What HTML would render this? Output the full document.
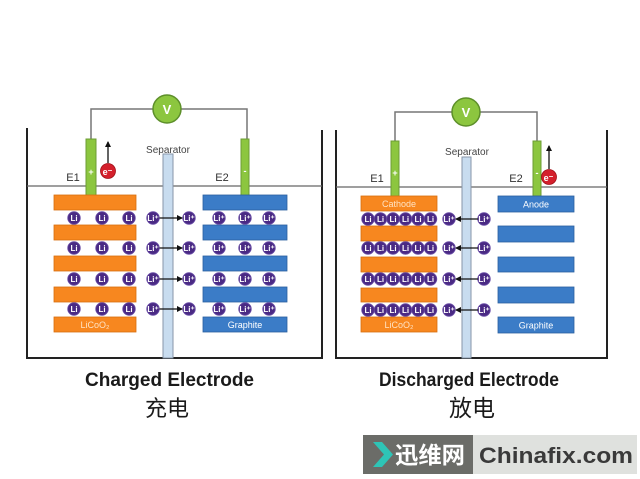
<!DOCTYPE html>
<html><head><meta charset="utf-8"><style>
html,body{margin:0;padding:0;background:#fff;}
svg{display:block;}
text{font-family:"Liberation Sans",Arial,sans-serif;}
.cjk{font-family:"Liberation Sans","Noto Sans CJK SC","WenQuanYi Zen Hei",sans-serif;}
.li{fill:#fff;font-size:8px;font-weight:bold;text-anchor:middle;}
</style></head><body>
<svg width="640" height="479" viewBox="0 0 640 479" xmlns="http://www.w3.org/2000/svg">
<defs>
<marker id="ah" markerWidth="6" markerHeight="6" refX="5" refY="3" orient="auto" markerUnits="userSpaceOnUse">
<path d="M0,0 L6,3 L0,6 z" fill="#111"/>
</marker>
<g id="li"><circle r="6.3" fill="#4a2a84" stroke="#6b4ea8" stroke-width="0.8"/><text y="3" class="li">Li</text></g>
<g id="lip"><circle r="6.3" fill="#4a2a84" stroke="#6b4ea8" stroke-width="0.8"/><text y="3" class="li">Li⁺</text></g>
</defs>
<rect width="640" height="479" fill="#fff"/>

<!-- LEFT PANEL -->
<path d="M27,128 V358 H322 V130" fill="none" stroke="#222" stroke-width="2"/>
<line x1="27" y1="186" x2="322" y2="186" stroke="#666" stroke-width="1.2"/>
<path d="M91,139 V109 H247 V139" fill="none" stroke="#777" stroke-width="1.5"/>
<circle cx="167" cy="109" r="14" fill="#8cc63f" stroke="#5d8f2a" stroke-width="1.5"/>
<text x="167" y="114" fill="#fff" font-size="13" font-weight="bold" text-anchor="middle">V</text>
<rect x="86" y="139" width="10" height="57" fill="#8cc63f" stroke="#6c9c34" stroke-width="1"/>
<text x="91" y="175" fill="#fff" font-size="9" font-weight="bold" text-anchor="middle">+</text>
<rect x="241" y="139" width="8" height="57" fill="#8cc63f" stroke="#6c9c34" stroke-width="1"/>
<text x="245" y="174" fill="#fff" font-size="9" font-weight="bold" text-anchor="middle">-</text>
<line x1="108" y1="163" x2="108" y2="142" stroke="#111" stroke-width="1.3" marker-end="url(#ah)"/>
<circle cx="108" cy="171" r="7.5" fill="#d4202c" stroke="#a01018" stroke-width="0.8"/>
<text x="107.5" y="175" fill="#fff" font-size="9" font-weight="bold" text-anchor="middle">e⁻</text>
<text x="73" y="181" fill="#333" font-size="11" text-anchor="middle">E1</text>
<text x="222" y="181" fill="#333" font-size="11" text-anchor="middle">E2</text>
<text x="168" y="153" fill="#444" font-size="10" text-anchor="middle">Separator</text>
<rect x="163" y="154" width="10" height="204" fill="#c8dcef" stroke="#8796a8" stroke-width="1"/>

<g fill="#f7871f" stroke="#d86f10" stroke-width="0.8">
<rect x="54" y="195" width="82" height="15"/>
<rect x="54" y="225" width="82" height="15"/>
<rect x="54" y="256" width="82" height="15"/>
<rect x="54" y="287" width="82" height="15"/>
<rect x="54" y="317" width="82" height="15"/>
</g>
<text x="95" y="328" fill="#ffe3c4" font-size="9" text-anchor="middle">LiCoO₂</text>
<g fill="#3b7cc7" stroke="#2a5f9f" stroke-width="0.8">
<rect x="203" y="195" width="84" height="15"/>
<rect x="203" y="225" width="84" height="15"/>
<rect x="203" y="256" width="84" height="15"/>
<rect x="203" y="287" width="84" height="15"/>
<rect x="203" y="317" width="84" height="15"/>
</g>
<text x="245" y="328" fill="#fff" font-size="9" text-anchor="middle">Graphite</text>

<g>
<use href="#li" x="74" y="218"/><use href="#li" x="102" y="218"/><use href="#li" x="129" y="218"/>
<use href="#lip" x="153" y="218"/><use href="#lip" x="189" y="218"/>
<use href="#lip" x="219" y="218"/><use href="#lip" x="245" y="218"/><use href="#lip" x="269" y="218"/>
<line x1="159.5" y1="218" x2="182" y2="218" stroke="#111" stroke-width="1.3" marker-end="url(#ah)"/>

<use href="#li" x="74" y="248"/><use href="#li" x="102" y="248"/><use href="#li" x="129" y="248"/>
<use href="#lip" x="153" y="248"/><use href="#lip" x="189" y="248"/>
<use href="#lip" x="219" y="248"/><use href="#lip" x="245" y="248"/><use href="#lip" x="269" y="248"/>
<line x1="159.5" y1="248" x2="182" y2="248" stroke="#111" stroke-width="1.3" marker-end="url(#ah)"/>

<use href="#li" x="74" y="279"/><use href="#li" x="102" y="279"/><use href="#li" x="129" y="279"/>
<use href="#lip" x="153" y="279"/><use href="#lip" x="189" y="279"/>
<use href="#lip" x="219" y="279"/><use href="#lip" x="245" y="279"/><use href="#lip" x="269" y="279"/>
<line x1="159.5" y1="279" x2="182" y2="279" stroke="#111" stroke-width="1.3" marker-end="url(#ah)"/>

<use href="#li" x="74" y="309"/><use href="#li" x="102" y="309"/><use href="#li" x="129" y="309"/>
<use href="#lip" x="153" y="309"/><use href="#lip" x="189" y="309"/>
<use href="#lip" x="219" y="309"/><use href="#lip" x="245" y="309"/><use href="#lip" x="269" y="309"/>
<line x1="159.5" y1="309" x2="182" y2="309" stroke="#111" stroke-width="1.3" marker-end="url(#ah)"/>
</g>

<text x="85" y="386" fill="#1a1a1a" font-size="19" font-weight="bold" textLength="169" lengthAdjust="spacingAndGlyphs">Charged Electrode</text>
<text x="167" y="416" fill="#1a1a1a" font-size="22" text-anchor="middle" class="cjk">充电</text>

<!-- RIGHT PANEL -->
<path d="M336,130 V358 H607 V130" fill="none" stroke="#222" stroke-width="2"/>
<line x1="336" y1="187" x2="607" y2="187" stroke="#666" stroke-width="1.2"/>
<path d="M395,141 V112 H537 V141" fill="none" stroke="#777" stroke-width="1.5"/>
<circle cx="466" cy="112" r="14" fill="#8cc63f" stroke="#5d8f2a" stroke-width="1.5"/>
<text x="466" y="117" fill="#fff" font-size="13" font-weight="bold" text-anchor="middle">V</text>
<rect x="391" y="141" width="8" height="55" fill="#8cc63f" stroke="#6c9c34" stroke-width="1"/>
<text x="395" y="176" fill="#fff" font-size="9" font-weight="bold" text-anchor="middle">+</text>
<rect x="533" y="141" width="8" height="55" fill="#8cc63f" stroke="#6c9c34" stroke-width="1"/>
<text x="537" y="176" fill="#fff" font-size="9" font-weight="bold" text-anchor="middle">-</text>
<line x1="549" y1="169" x2="549" y2="146" stroke="#111" stroke-width="1.3" marker-end="url(#ah)"/>
<circle cx="549" cy="177" r="7.5" fill="#d4202c" stroke="#a01018" stroke-width="0.8"/>
<text x="548.5" y="181" fill="#fff" font-size="9" font-weight="bold" text-anchor="middle">e⁻</text>
<text x="377" y="182" fill="#333" font-size="11" text-anchor="middle">E1</text>
<text x="516" y="182" fill="#333" font-size="11" text-anchor="middle">E2</text>
<text x="467" y="155" fill="#444" font-size="10" text-anchor="middle">Separator</text>
<rect x="462" y="157" width="9" height="201" fill="#c8dcef" stroke="#8796a8" stroke-width="1"/>

<g fill="#f7871f" stroke="#d86f10" stroke-width="0.8">
<rect x="361" y="196" width="76" height="15"/>
<rect x="361" y="226" width="76" height="15"/>
<rect x="361" y="257" width="76" height="15"/>
<rect x="361" y="288" width="76" height="14"/>
<rect x="361" y="317" width="76" height="15"/>
</g>
<text x="399" y="207" fill="#ffe3c4" font-size="9" text-anchor="middle">Cathode</text>
<text x="399" y="328" fill="#ffe3c4" font-size="9" text-anchor="middle">LiCoO₂</text>
<g fill="#3b7cc7" stroke="#2a5f9f" stroke-width="0.8">
<rect x="498" y="196" width="76" height="16"/>
<rect x="498" y="226" width="76" height="16"/>
<rect x="498" y="257" width="76" height="15"/>
<rect x="498" y="287" width="76" height="16"/>
<rect x="498" y="317" width="76" height="16"/>
</g>
<text x="536" y="207.5" fill="#fff" font-size="9" text-anchor="middle">Anode</text>
<text x="536" y="328.5" fill="#fff" font-size="9" text-anchor="middle">Graphite</text>

<g>
<use href="#li" x="368" y="219"/><use href="#li" x="380.5" y="219"/><use href="#li" x="393" y="219"/><use href="#li" x="405.5" y="219"/><use href="#li" x="418" y="219"/><use href="#li" x="430.5" y="219"/>
<use href="#lip" x="449" y="219"/><use href="#lip" x="484" y="219"/>
<line x1="478" y1="219" x2="456" y2="219" stroke="#111" stroke-width="1.3" marker-end="url(#ah)"/>

<use href="#li" x="368" y="248"/><use href="#li" x="380.5" y="248"/><use href="#li" x="393" y="248"/><use href="#li" x="405.5" y="248"/><use href="#li" x="418" y="248"/><use href="#li" x="430.5" y="248"/>
<use href="#lip" x="449" y="248"/><use href="#lip" x="484" y="248"/>
<line x1="478" y1="248" x2="456" y2="248" stroke="#111" stroke-width="1.3" marker-end="url(#ah)"/>

<use href="#li" x="368" y="279"/><use href="#li" x="380.5" y="279"/><use href="#li" x="393" y="279"/><use href="#li" x="405.5" y="279"/><use href="#li" x="418" y="279"/><use href="#li" x="430.5" y="279"/>
<use href="#lip" x="449" y="279"/><use href="#lip" x="484" y="279"/>
<line x1="478" y1="279" x2="456" y2="279" stroke="#111" stroke-width="1.3" marker-end="url(#ah)"/>

<use href="#li" x="368" y="310"/><use href="#li" x="380.5" y="310"/><use href="#li" x="393" y="310"/><use href="#li" x="405.5" y="310"/><use href="#li" x="418" y="310"/><use href="#li" x="430.5" y="310"/>
<use href="#lip" x="449" y="310"/><use href="#lip" x="484" y="310"/>
<line x1="478" y1="310" x2="456" y2="310" stroke="#111" stroke-width="1.3" marker-end="url(#ah)"/>
</g>

<text x="379" y="386" fill="#1a1a1a" font-size="19" font-weight="bold" textLength="180" lengthAdjust="spacingAndGlyphs">Discharged Electrode</text>
<text x="472" y="416" fill="#1a1a1a" font-size="23" text-anchor="middle" class="cjk">放电</text>

<!-- WATERMARK -->
<rect x="363" y="435" width="110" height="39" fill="#6b6c68"/>
<rect x="473" y="435" width="164" height="39" fill="#dfe1de"/>
<polygon points="373,442 382,442 393,454.5 382,467 373,467 384,454.5" fill="#2ec4b6"/>
<text x="395" y="463" fill="#fff" font-size="23" font-weight="bold" class="cjk" textLength="70" lengthAdjust="spacingAndGlyphs">迅维网</text>
<text x="479" y="463" fill="#3a3a3a" font-size="22" font-weight="bold" textLength="154" lengthAdjust="spacingAndGlyphs">Chinafix.com</text>
</svg>
</body></html>
